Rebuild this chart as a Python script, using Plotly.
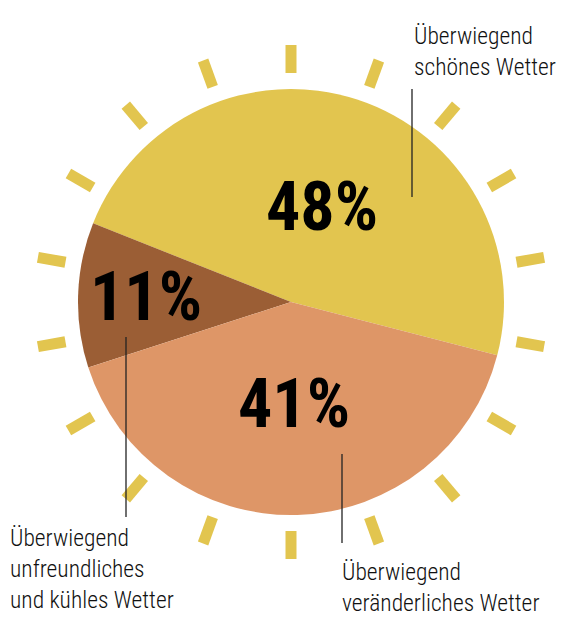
import math
import plotly.graph_objects as go

# ================== DATA ==================
labels = [
    "Überwiegend schönes Wetter",
    "Überwiegend unfreundliches und kühles Wetter",
    "Überwiegend veränderliches Wetter",
]
values = [48, 11, 41]
pct_text = ["48%", "11%", "41%"]
label_lines = [
    ["Überwiegend", "schönes Wetter"],
    ["Überwiegend", "unfreundliches", "und kühles Wetter"],
    ["Überwiegend", "veränderliches Wetter"],
]
colors = ["#E2C54F", "#9B5E35", "#DE9667"]
ray_color = "#E2C54F"

# ================== LAYOUT (screen pixels) ==================
W, H = 582, 628
OFF = 8                            # page body margin of the html
CX, CY, R = 291, 302, 213          # pie centre / radius, y from top
START = -14.5                      # math angle where the first slice starts (ccw)
RAY_IN, RAY_OUT, RAY_W = 229, 257, 11
N_RAYS = 18

FONT = "Roboto Condensed, Open Sans, sans-serif"

fig = go.Figure()

# sun rays
rx, ry = [], []
for k in range(N_RAYS):
    a = math.radians(90 + k * 360 / N_RAYS)
    rx += [CX + RAY_IN * math.cos(a), CX + RAY_OUT * math.cos(a), None]
    ry += [CY - RAY_IN * math.sin(a), CY - RAY_OUT * math.sin(a), None]
fig.add_trace(go.Scatter(x=rx, y=ry, mode="lines", line=dict(color=ray_color, width=RAY_W),
                         hoverinfo="skip", showlegend=False))

# pie (plotly ccw: first slice lies clockwise of `rotation`)
total = sum(values)
first_span = values[0] / total * 360
rotation = 90 - (START + first_span)
fx, fy = CX - OFF, CY - OFF
fig.add_trace(go.Pie(
    labels=labels, values=values, sort=False, direction="counterclockwise",
    rotation=rotation, marker=dict(colors=colors, line=dict(width=0)),
    textinfo="none", hoverinfo="label+percent", showlegend=False,
    domain=dict(x=[(fx - R) / W, (fx + R) / W], y=[(H - fy - R) / H, (H - fy + R) / H]),
))

# percent labels placed along each slice's mid angle
radial = [0.47, 0.68, 0.48]
start = START
for v, t, rf in zip(values, pct_text, radial):
    span = v / total * 360
    mid = math.radians(start + span / 2)
    start += span
    fig.add_annotation(x=CX + rf * R * math.cos(mid), y=CY - rf * R * math.sin(mid),
                       text=t, showarrow=False, xanchor="center", yanchor="middle",
                       font=dict(family=FONT, size=68, color="#000000", weight="bold"))

# category labels (one annotation per line, 31px line pitch) + leader lines
SIZE, PITCH = 23.5, 31
label_pos = [(412, 43), (8, 545), (340, 579)]      # left x, first baseline
for lines, (lx, base) in zip(label_lines, label_pos):
    for j, line in enumerate(lines):
        fig.add_annotation(x=lx, y=base + j * PITCH - 0.93 * SIZE - 1, text=line,
                           showarrow=False, xanchor="left", yanchor="top",
                           font=dict(family=FONT, size=SIZE, color="#111111", weight=300))

leaders = [(412, 89, 197), (126, 337, 517), (342, 454, 543)]
for x0, y0, y1 in leaders:
    fig.add_shape(type="line", x0=x0, x1=x0, y0=y0, y1=y1, layer="above",
                  line=dict(color="#222222", width=1.3))

fig.update_layout(
    width=W, height=H, margin=dict(l=0, r=0, t=0, b=0),
    paper_bgcolor="white", plot_bgcolor="white",
    xaxis=dict(range=[OFF, W + OFF], visible=False, fixedrange=True),
    yaxis=dict(range=[H + OFF, OFF], visible=False, fixedrange=True),
)

fig.write_html("out.html")
